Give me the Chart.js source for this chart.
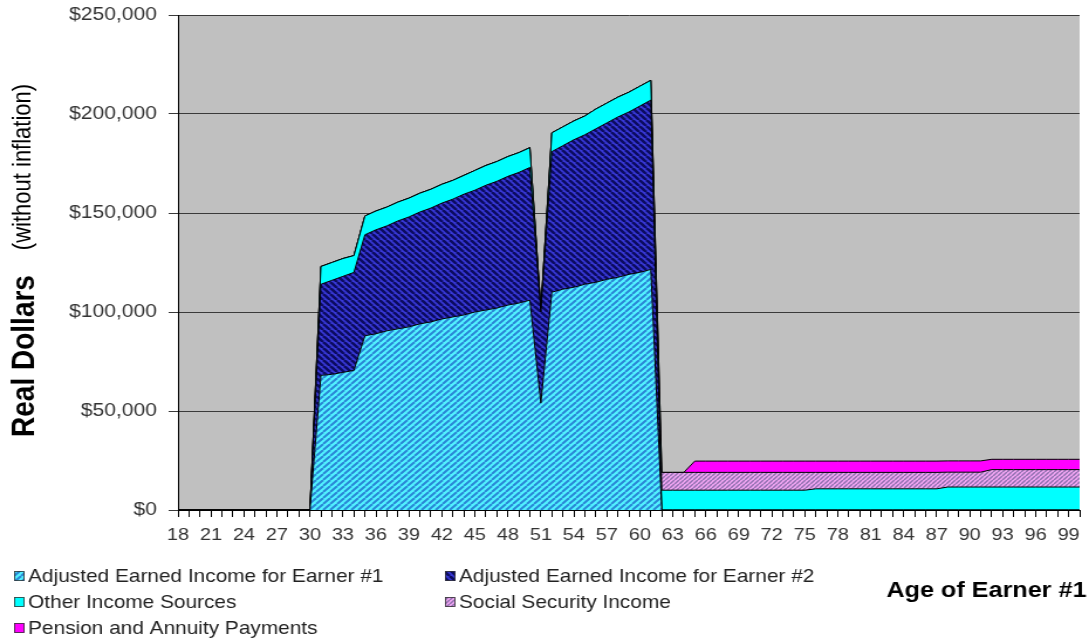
<!DOCTYPE html>
<html><head><meta charset="utf-8">
<script src="https://cdn.jsdelivr.net/npm/chart.js@4.4.1/dist/chart.umd.min.js"></script>
<style>html,body{margin:0;padding:0;background:#fff;overflow:hidden}</style></head><body>
<canvas id="c" width="930" height="640" style="display:block;width:1089px;height:640px"></canvas>
<script>
const ages = [18,19,20,21,22,23,24,25,26,27,28,29,30,31,32,33,34,35,36,37,38,39,40,41,42,43,44,45,46,47,48,49,50,51,52,53,54,55,56,57,58,59,60,61,62,63,64,65,66,67,68,69,70,71,72,73,74,75,76,77,78,79,80,81,82,83,84,85,86,87,88,89,90,91,92,93,94,95,96,97,98,99,100];
const earner1 = [0,0,0,0,0,0,0,0,0,0,0,0,0,
 68000,68500,69500,70500,88000,89000,90500,91500,92500,94000,95000,96500,97500,98500,100000,101000,102000,103500,104500,106000,
 54000,
 110000,111500,112500,114000,115000,116500,117500,119000,120000,121500,
 0,0,0,0,0,0,0,0,0,0,0,0,0,0,0,0,0,0,0,0,0,0,0,0,0,0,0,0,0,0,0,0,0,0,0,0,0,0,0];
const earner2 = [0,0,0,0,0,0,0,0,0,0,0,0,0,
 46000,47500,48500,49500,51000,52500,53000,54500,55500,56500,57500,58500,59500,61000,61500,63000,64000,65000,66000,67000,
 46000,
 71000,72500,74500,75500,77500,79000,81000,82000,84000,85500,
 0,0,0,0,0,0,0,0,0,0,0,0,0,0,0,0,0,0,0,0,0,0,0,0,0,0,0,0,0,0,0,0,0,0,0,0,0,0,0];
const otherIncome = [0,0,0,0,0,0,0,0,0,0,0,0,0,
 9000,9000,9000,8500,9500,9500,9500,9500,9500,9500,9500,9500,9500,9500,10000,10000,10000,10000,10000,10000,
 1000,
 9500,9500,9500,9500,10000,10000,10000,10000,10000,10000,
 10000,10000,10000,10000,10000,10000,10000,10000,10000,10000,10000,10000,10000,10000,
 10700,10700,10700,10700,10700,10700,10700,10700,10700,10700,10700,10700,
 11600,11600,11600,11600,11600,11600,11600,11600,11600,11600,11600,11600,11600];
const socialSecurity = [0,0,0,0,0,0,0,0,0,0,0,0,0,0,0,0,0,0,0,0,0,0,0,0,0,0,0,0,0,0,0,0,0,0,0,0,0,0,0,0,0,0,0,0,
 9000,9000,9000,9000,9000,9000,9000,9000,9000,9000,9000,9000,9000,9000,
 8300,8300,8300,8300,8300,8300,8300,8300,8300,8300,8300,8300,
 7500,7500,7500,7500,
 8800,8800,8800,8800,8800,8800,8800,8800,8800];
const pension = [0,0,0,0,0,0,0,0,0,0,0,0,0,0,0,0,0,0,0,0,0,0,0,0,0,0,0,0,0,0,0,0,0,0,0,0,0,0,0,0,0,0,0,0,
 0,0,0,
 5700,5700,5700,5700,5700,5700,5700,5700,5700,5700,5700,5700,5700,5700,5700,5700,5700,5700,5700,5700,5700,5700,5700,5700,5700,5700,5700,
 5200,5200,5200,5200,5200,5200,5200,5200,5200];
const seriesNames = ['Adjusted Earned Income for Earner #1','Adjusted Earned Income for Earner #2','Other Income Sources','Social Security Income','Pension and Annuity Payments'];
const yTicks = [0,50000,100000,150000,200000,250000];

const FONT = "'Liberation Sans', Arial, sans-serif";

function stripes(bg, fg, period, lw, dir){
  const c = document.createElement('canvas');
  c.width = period; c.height = period;
  const g = c.getContext('2d');
  g.fillStyle = bg; g.fillRect(0,0,period,period);
  g.strokeStyle = fg; g.lineWidth = lw;
  for (let k=-1;k<=1;k++){
    g.beginPath();
    if (dir === '/') { g.moveTo(k*period, period); g.lineTo(k*period+period, 0); }
    else { g.moveTo(k*period, 0); g.lineTo(k*period+period, period); }
    g.stroke();
  }
  return g.createPattern(c,'repeat');
}
const ctx0 = document.getElementById('c').getContext('2d');
const pat1 = stripes('#52F2FF', '#2A86D6', 6, 2, '/');
const pat2 = stripes('#3838D6', '#0C0C60', 6, 2.6, '\\');
const patSS = stripes('#F6A8F6', '#9070B0', 4, 1.5, '/');
const fills = [pat1, pat2, '#00FFFF', patSS, '#FF00FF'];
const seriesData = [earner1, earner2, otherIncome, socialSecurity, pension];

const datasets = seriesData.map((d,i)=>({
  label: seriesNames[i],
  data: d,
  backgroundColor: fills[i],
  borderColor: '#000',
  borderWidth: 1,
  fill: i===0 ? 'origin' : '-1',
  pointRadius: 0,
  tension: 0
}));

const bgPlugin = {
  id: 'bg',
  beforeDraw(chart){
    const {ctx, chartArea:a} = chart;
    ctx.save(); ctx.fillStyle = '#C0C0C0';
    ctx.fillRect(a.left, a.top, a.right-a.left, a.bottom-a.top);
    ctx.restore();
  },
  afterDraw(chart){
    const ctx = chart.ctx;
    ctx.save();
    ctx.fillStyle = '#000';
    ctx.textAlign = 'center'; ctx.textBaseline = 'alphabetic';
    ctx.translate(29, 356); ctx.rotate(-Math.PI/2);
    ctx.font = 'bold 28px ' + FONT;
    ctx.fillText('Real Dollars', 0, 0);
    ctx.restore();
    ctx.save();
    ctx.fillStyle = '#000';
    ctx.textAlign = 'center'; ctx.textBaseline = 'alphabetic';
    ctx.translate(26, 167); ctx.rotate(-Math.PI/2);
    ctx.font = '22px ' + FONT;
    ctx.fillText('(without inflation)', 0, 0);
    ctx.restore();
    ctx.save();
    ctx.fillStyle = '#000'; ctx.font = 'bold 21.5px ' + FONT;
    ctx.textAlign = 'left'; ctx.textBaseline = 'middle';
    ctx.fillText('Age of Earner #1', 757, 591);
    ctx.restore();
    const pos = [[12,576],[380,576],[12,602],[380,602],[12,628]];
    ctx.save();
    ctx.font = '17.8px ' + FONT; ctx.textBaseline = 'middle'; ctx.textAlign = 'left';
    seriesNames.forEach((n,i)=>{
      const [x,y] = pos[i];
      ctx.fillStyle = fills[i];
      ctx.fillRect(x, y-5, 9, 10);
      ctx.strokeStyle = '#333'; ctx.lineWidth = 0.8;
      ctx.strokeRect(x+0.5, y-4.5, 8, 9);
      ctx.fillStyle = '#222';
      ctx.fillText(n, x+12, y+1);
    });
    ctx.restore();
  }
};

new Chart(ctx0, {
  type: 'line',
  data: { labels: ages.map(String), datasets },
  options: {
    responsive: false,
    animation: false,
    devicePixelRatio: 1,
    layout: { padding: { top: 15, right: 6, bottom: 0, left: 0 } },
    plugins: { legend: { display: false }, tooltip: { enabled: false }, title: { display: false } },
    elements: { line: { tension: 0 } },
    scales: {
      x: {
        stacked: true,
        offset: false,
        grid: { drawOnChartArea: false, drawTicks: true, tickLength: 7, color: '#000', lineWidth: 1 },
        border: { display: true, color: '#000', width: 1 },
        ticks: {
          autoSkip: false, maxRotation: 0, minRotation: 0, padding: 8,
          color: '#333', font: { family: FONT, size: 17 },
          callback: function(v, idx){ const a = ages[idx]; return ((a-18)%3===0) ? String(a) : ''; }
        },
        afterFit(s){ s.height = 130; }
      },
      y: {
        stacked: true,
        min: 0, max: 250000,
        afterBuildTicks(s){ s.ticks = yTicks.map(v=>({value:v})); },
        grid: { drawOnChartArea: true, drawTicks: true, tickLength: 8, color: '#3a3a3a', lineWidth: 1 },
        border: { display: true, color: '#000', width: 1 },
        ticks: {
          padding: 10, color: '#333', font: { family: FONT, size: 18 },
          callback: v => '$' + Number(v).toLocaleString('en-US')
        },
        afterFit(s){ s.width = 152; s.paddingTop = 0; s.paddingBottom = 0; }
      }
    }
  },
  plugins: [bgPlugin]
});
</script>
</body></html>
